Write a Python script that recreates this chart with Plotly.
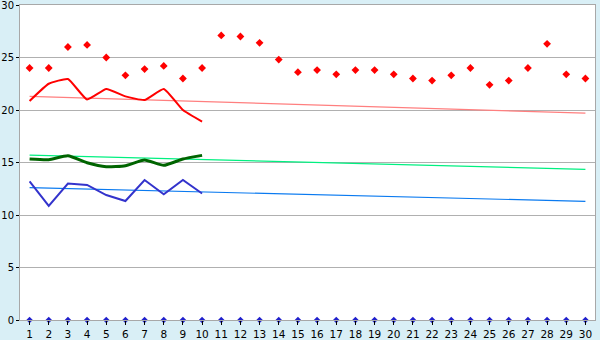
import plotly.graph_objects as go

days = list(range(1, 31))
max_pts = [24.0, 24.0, 26.0, 26.2, 25.0, 23.3, 23.9, 24.2, 23.0, 24.0,
           27.1, 27.0, 26.4, 24.8, 23.6, 23.8, 23.4, 23.8, 23.8, 23.4,
           23.0, 22.8, 23.3, 24.0, 22.4, 22.8, 24.0, 26.3, 23.4, 23.0]
red_days = list(range(1, 11))
red_line = [20.86, 22.5, 22.95, 21.0, 22.0, 21.3, 20.95, 22.0, 20.0, 18.9]
green_line = [15.33, 15.27, 15.65, 14.98, 14.6, 14.7, 15.24, 14.73, 15.33, 15.68]
blue_line = [13.2, 10.86, 13.0, 12.86, 11.9, 11.33, 13.33, 11.97, 13.33, 12.05]
trend_x = [1, 30]
red_trend = [21.3, 19.7]
green_trend = [15.7, 14.35]
blue_trend = [12.6, 11.3]
zero_pts = [0] * 30
tick_labels = [str(d) for d in days]

fig = go.Figure()
fig.add_trace(go.Scatter(x=trend_x, y=red_trend, mode="lines",
                         line=dict(color="#FF7F7F", width=1.2)))
fig.add_trace(go.Scatter(x=trend_x, y=green_trend, mode="lines",
                         line=dict(color="#00F080", width=1.2)))
fig.add_trace(go.Scatter(x=trend_x, y=blue_trend, mode="lines",
                         line=dict(color="#0A7AF0", width=1.2)))
fig.add_trace(go.Scatter(x=red_days, y=red_line, mode="lines",
                         line=dict(color="#FF0000", width=2, shape="spline", smoothing=0.4)))
fig.add_trace(go.Scatter(x=red_days, y=green_line, mode="lines",
                         line=dict(color="#006400", width=3, shape="spline", smoothing=0.5)))
fig.add_trace(go.Scatter(x=red_days, y=blue_line, mode="lines",
                         line=dict(color="#3333CC", width=2)))
fig.add_trace(go.Scatter(x=days, y=max_pts, mode="markers",
                         marker=dict(symbol="diamond", size=6, color="#FF0000")))
fig.add_trace(go.Scatter(x=days, y=zero_pts, mode="markers", cliponaxis=False,
                         marker=dict(symbol="diamond", size=5, color="#2020CC")))

fig.update_layout(
    width=600, height=340,
    margin=dict(l=20, r=5, t=5, b=20),
    paper_bgcolor="#D9EFF6", plot_bgcolor="#FFFFFF",
    showlegend=False,
    font=dict(family="DejaVu Sans", size=11, color="#000000"),
)
fig.update_xaxes(range=[0.5, 30.5], tickvals=days, ticktext=tick_labels,
                 showgrid=False, showline=True, linecolor="#A8A8A8", linewidth=1,
                 mirror=True, ticks="outside", ticklen=4, tickcolor="#000000",
                 zeroline=False, tickfont=dict(size=10.5), automargin=False,
                 ticklabeloverflow="allow")
fig.update_yaxes(range=[0, 30], tickvals=[0, 5, 10, 15, 20, 25, 30],
                 showgrid=True, gridcolor="#B0B0B0", gridwidth=1,
                 showline=True, linecolor="#A8A8A8", linewidth=1, mirror=True,
                 ticks="outside", ticklen=3, tickcolor="#000000",
                 zeroline=False, tickfont=dict(size=10), automargin=False,
                 ticklabeloverflow="allow", ticklabelstandoff=0)

fig.write_html("out.html")
